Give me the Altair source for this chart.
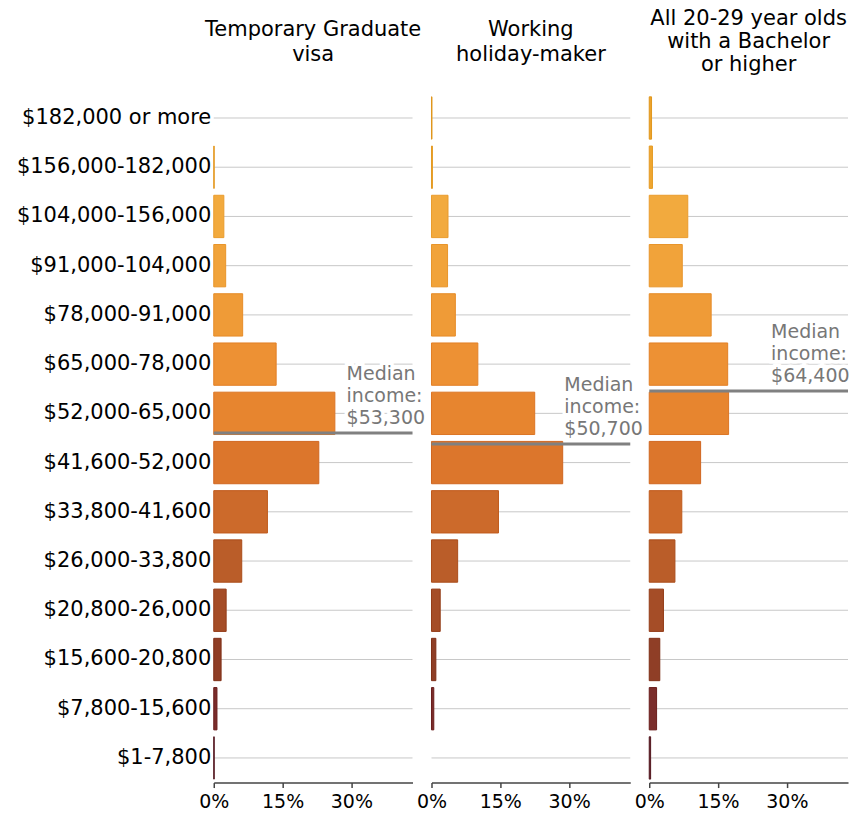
import altair as alt
import pandas as pd

categories = [
    "$182,000 or more", "$156,000-182,000", "$104,000-156,000", "$91,000-104,000",
    "$78,000-91,000", "$65,000-78,000", "$52,000-65,000", "$41,600-52,000",
    "$33,800-41,600", "$26,000-33,800", "$20,800-26,000", "$15,600-20,800",
    "$7,800-15,600", "$1-7,800",
]
lower_bounds = [182000, 156000, 104000, 91000, 78000, 65000, 52000, 41600,
                33800, 26000, 20800, 15600, 7800, 1]
upper_bounds = [None, 182000, 156000, 104000, 91000, 78000, 65000, 52000,
                41600, 33800, 26000, 20800, 15600, 7800]

# percent of each group in each income band
tg_values = [0.0, 0.1, 2.2, 2.6, 6.3, 13.6, 26.4, 22.9, 11.7, 6.1, 2.7, 1.6, 0.7, 0.1]
whm_values = [0.1, 0.2, 3.6, 3.5, 5.2, 10.1, 22.5, 28.6, 14.6, 5.7, 1.9, 0.95, 0.5, 0.0]
all_values = [0.5, 0.7, 8.4, 7.2, 13.5, 17.1, 17.3, 11.2, 7.1, 5.6, 3.1, 2.3, 1.6, 0.3]

median_values = [53300, 50700, 64400]
median_labels = ["$53,300", "$50,700", "$64,400"]

panel_titles = [
    ["Temporary Graduate", "visa"],
    ["Working", "holiday-maker"],
    ["All 20-29 year olds", "with a Bachelor", "or higher"],
]

bar_colors = ["#eca32b", "#efa630", "#f2aa3e", "#f1a33a", "#ef9b37", "#ed9134",
              "#e7852f", "#dc762c", "#cc6a2b", "#ba5d29", "#a54d27", "#8f3e26",
              "#7a2d2b", "#62232c"]
bar_strokes = ["#e0961c", "#e49a22", "#ea9c2c", "#e8952a", "#e68c28", "#e28026",
               "#dc7424", "#d06620", "#c05a1c", "#aa4c1a", "#943c18", "#7e2e16",
               "#6a1e1c", "#52161e"]

FONT = "DejaVu Sans"
W, H = 199, 690
XMAX = W / 459.3
N = len(categories)


def median_pos(m):
    for i, (lo, hi) in enumerate(zip(lower_bounds, upper_bounds)):
        if hi is None:
            if m >= lo:
                return i + 0.5
        elif lo <= m < hi:
            return i + 1 - (m - lo) / (hi - lo)
    return N


def panel(values, median, label, title, show_axis, text_x, title_offset, title_lh):
    df = pd.DataFrame({"cat": categories, "v": [v / 100 for v in values]})
    ysc = alt.Scale(domain=categories, paddingInner=0.14, paddingOuter=0.07)
    xsc = alt.Scale(domain=[0, XMAX], nice=False, zero=True)
    xaxis = alt.Axis(values=[0, 0.15, 0.30], format=".0%", title=None, grid=False,
                     tickSize=5, tickColor="#444", domainColor="#444", domainWidth=1.5,
                     tickWidth=1.5, labelFontSize=19, labelFont=FONT, labelColor="black",
                     labelPadding=5, labelFlush=False, labelAlign="center")
    if show_axis:
        yaxis = alt.Axis(title=None, ticks=False, domain=False, labelFontSize=21,
                         labelFont=FONT, labelColor="black", labelPadding=3,
                         labelLimit=400)
    else:
        yaxis = None
    base = alt.Chart(df)
    grid = base.mark_rule(color="#c8c8c8", strokeWidth=1).encode(
        x=alt.X("v:Q", scale=xsc, axis=xaxis),
        x2=alt.datum(XMAX),
        y=alt.Y("cat:N", scale=ysc, axis=yaxis, sort=categories),
    )
    bars = base.mark_bar(strokeWidth=1).encode(
        x=alt.X("v:Q", scale=xsc),
        y=alt.Y("cat:N", scale=ysc, sort=categories),
        color=alt.Color("cat:N", scale=alt.Scale(domain=categories, range=bar_colors),
                        legend=None),
        stroke=alt.Stroke("cat:N", scale=alt.Scale(domain=categories, range=bar_strokes),
                          legend=None),
    ).transform_filter(alt.datum.v > 0)
    mdf = pd.DataFrame({"pos": [median_pos(median)], "label": [label]})
    qsc = alt.Scale(domain=[0, N], reverse=True, nice=False, zero=False)
    mbase = alt.Chart(mdf)
    lines = ["Median", "income:", label]
    halo = mbase.mark_text(align="left", baseline="alphabetic", dy=-53, fontSize=19,
                           font=FONT, lineHeight=22, color="white", stroke="white",
                           strokeWidth=7).encode(
        y=alt.Y("pos:Q", scale=qsc, axis=None),
        x=alt.value(text_x),
        text=alt.value(lines),
    )
    txt = mbase.mark_text(align="left", baseline="alphabetic", dy=-53, fontSize=19,
                          font=FONT, lineHeight=22, color="#777777").encode(
        y=alt.Y("pos:Q", scale=qsc, axis=None),
        x=alt.value(text_x),
        text=alt.value(lines),
    )
    mrule = mbase.mark_rule(color="#808080", strokeWidth=3).encode(
        y=alt.Y("pos:Q", scale=qsc, axis=None),
        x=alt.datum(0),
        x2=alt.datum(XMAX),
    )
    layer = alt.layer(
        alt.layer(grid, bars),
        alt.layer(halo, txt, mrule),
    ).resolve_scale(y="independent").properties(
        width=W, height=H,
        title=alt.Title(text=title, fontSize=21, font=FONT, fontWeight="normal",
                        color="black", baseline="middle", anchor="middle",
                        lineHeight=title_lh, offset=title_offset),
    )
    return layer


p1 = panel(tg_values, median_values[0], median_labels[0], panel_titles[0], True, 133, 17, 25)
p2 = panel(whm_values, median_values[1], median_labels[1], panel_titles[1], False, 133, 17, 25)
p3 = panel(all_values, median_values[2], median_labels[2], panel_titles[2], False, 122, 7, 23)

chart = alt.hconcat(p1, p2, p3, spacing=19, bounds="flush").configure_view(
    stroke=None
).properties(padding={"left": 8, "top": 0, "right": 0, "bottom": 0})

chart.save("out.html", embed_options={"renderer": "svg", "actions": False})
